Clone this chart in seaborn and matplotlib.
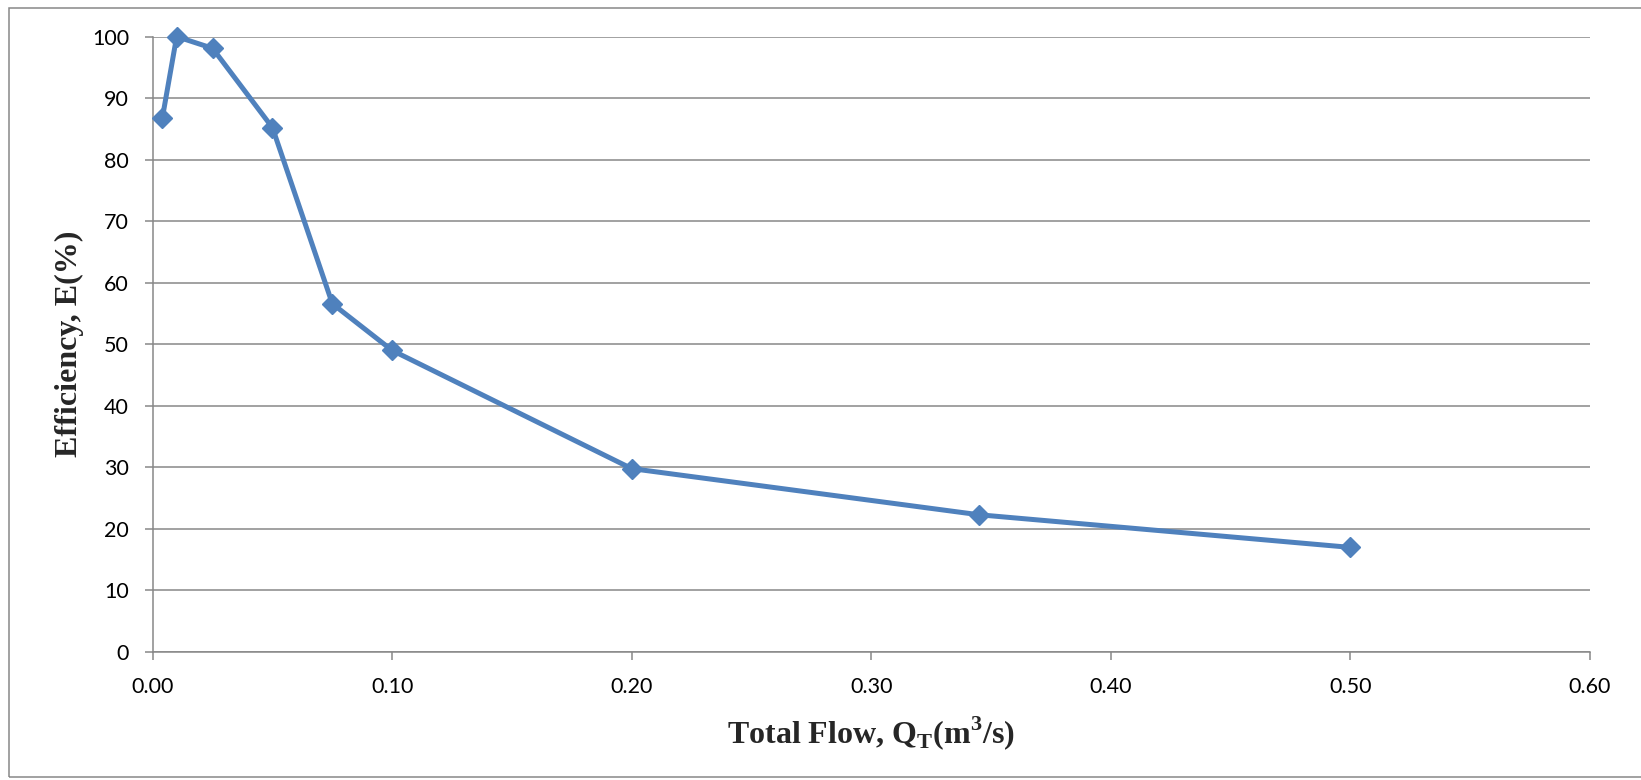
import matplotlib
matplotlib.use("Agg")
import matplotlib.pyplot as plt
import seaborn as sns
import pandas as pd
from matplotlib.patches import Rectangle

# values
flow = [0.004, 0.010, 0.025, 0.050, 0.075, 0.100, 0.200, 0.345, 0.500]
efficiency = [86.7, 100.0, 98.1, 85.2, 56.6, 49.0, 29.8, 22.3, 17.0]
x_ticks = [0.0, 0.1, 0.2, 0.3, 0.4, 0.5, 0.6]
y_ticks = [0, 10, 20, 30, 40, 50, 60, 70, 80, 90, 100]

sns.set_style("white")
plt.rcParams["font.family"] = ["Lato", "DejaVu Sans"]

grid_col = "#878787"
blue = "#4F81BD"

df = pd.DataFrame({"flow": flow, "eff": efficiency})

fig = plt.figure(figsize=(16.41, 7.80), dpi=100)
ax = fig.add_axes([152.7 / 1641, 1 - 652 / 780, (1589.8 - 152.7) / 1641, (652 - 36.6) / 780])

sns.lineplot(data=df, x="flow", y="eff", ax=ax, color=blue, linewidth=3.6,
             marker="D", markersize=10, markeredgecolor=blue, markeredgewidth=1,
             sort=False, clip_on=False, zorder=5)

ax.set_xlim(0, 0.6)
ax.set_ylim(0, 100)
ax.set_xticks(x_ticks)
ax.set_yticks(y_ticks)
ax.set_xticklabels([f"{t:.2f}" for t in x_ticks])
ax.yaxis.grid(True, color=grid_col, linewidth=1.1)
ax.set_axisbelow(True)

for side in ["top", "right"]:
    ax.spines[side].set_visible(False)
for side in ["left", "bottom"]:
    ax.spines[side].set_color(grid_col)
    ax.spines[side].set_linewidth(1.1)

ax.tick_params(axis="both", direction="out", length=6, width=1.1, color=grid_col,
               labelsize=15.5, labelcolor="black", bottom=True, left=True)
ax.tick_params(axis="x", pad=12)
ax.tick_params(axis="y", pad=11)

serif = ["Liberation Serif", "DejaVu Serif"]
ax.set_xlabel(r"Total Flow, Q$_\mathregular{T}$(m$^\mathregular{3}$/s)", family=serif,
              fontsize=23, fontweight="bold", labelpad=12)
ax.set_ylabel("Efficiency, E(%)", family=serif, fontsize=23, fontweight="bold", labelpad=6)

# outer chart border
fig.patches.append(Rectangle((9 / 1641, 3 / 780), 1.2, 1 - 10.5 / 780, transform=fig.transFigure,
                             fill=False, edgecolor=grid_col, linewidth=1.1))

fig.savefig("out.png", dpi=100)
